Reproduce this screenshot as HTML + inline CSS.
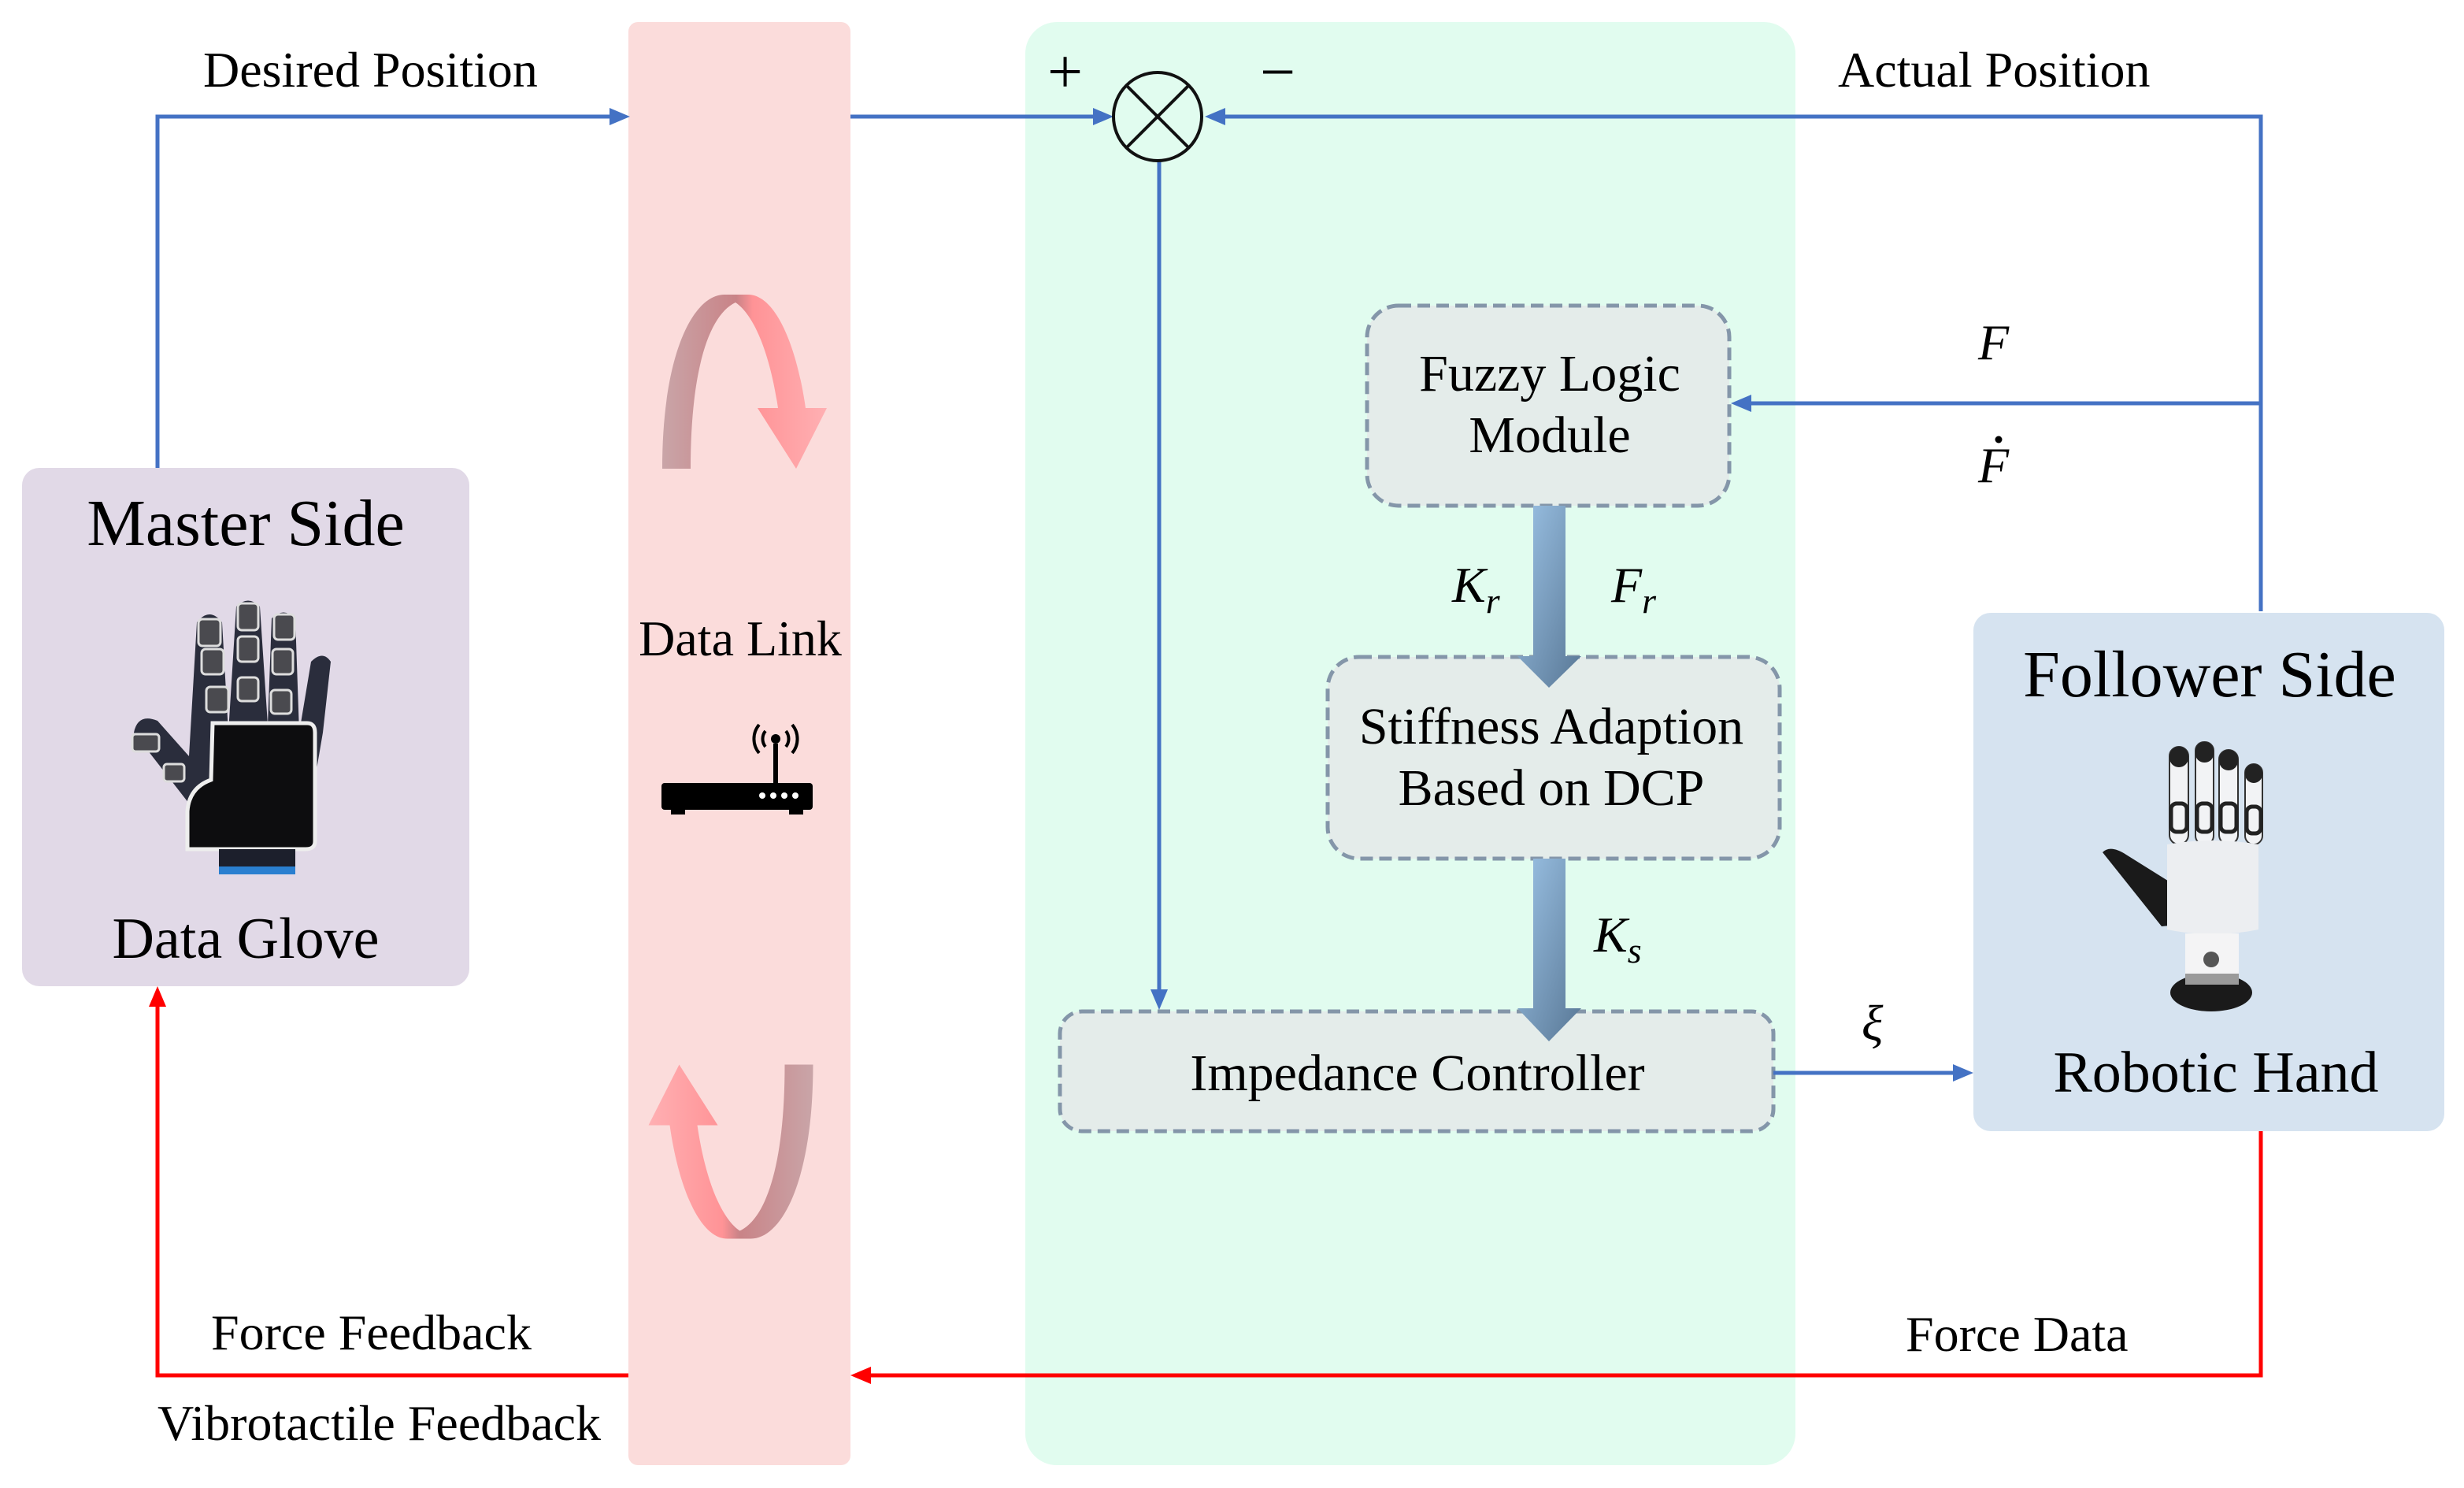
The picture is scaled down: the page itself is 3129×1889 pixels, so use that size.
<!DOCTYPE html>
<html><head><meta charset="utf-8"><style>html,body{margin:0;padding:0;background:#fff}svg{display:block}</style></head>
<body>
<svg width="3129" height="1889" viewBox="0 0 3129 1889" xmlns="http://www.w3.org/2000/svg" font-family="Liberation Serif, serif">
<defs>
<linearGradient id="bg" x1="0" y1="0" x2="1" y2="1"><stop offset="0" stop-color="#9cc3e6"/><stop offset="1" stop-color="#587795"/></linearGradient>
<linearGradient id="pg" x1="0" y1="0" x2="1" y2="0"><stop offset="0" stop-color="#c9a5a8"/><stop offset="0.45" stop-color="#c98387"/><stop offset="0.55" stop-color="#ff9396"/><stop offset="1" stop-color="#ffb0b3"/></linearGradient>
</defs>
<rect x="798" y="28" width="282" height="1832" rx="12" fill="#fbdcdb"/>
<rect x="1302" y="28" width="978" height="1832" rx="40" fill="#e1fcef"/>
<rect x="28" y="594" width="568" height="658" rx="22" fill="#e1d9e7"/>
<rect x="2506" y="778" width="598" height="658" rx="22" fill="#d6e3f0"/>

<g fill="#e4ecea" stroke="#8496a9" stroke-width="5" stroke-dasharray="16 8">
<rect x="1736" y="388" width="460" height="254" rx="40"/>
<rect x="1686" y="834" width="574" height="256" rx="40"/>
<rect x="1346" y="1284" width="906" height="152" rx="28"/>
</g>

<path d="M1947,642 H1988 V833 H2008 L1967,873 L1927,833 H1947 Z" fill="url(#bg)"/>
<path d="M1947,1090 H1988 V1280 H2008 L1967,1322 L1927,1280 H1947 Z" fill="url(#bg)"/>

<g stroke="#4472c4" stroke-width="5" fill="none">
<polyline points="200,594 200,148 776,148"/>
<line x1="1080" y1="148" x2="1392" y2="148"/>
<polyline points="2871,776 2871,148 1552,148"/>
<line x1="1472" y1="204" x2="1472" y2="1256"/>
<line x1="2871" y1="512" x2="2224" y2="512"/>
<line x1="2252" y1="1362" x2="2480" y2="1362"/>
</g>
<g fill="#4472c4">
<polygon points="800,148 774,137 774,159"/>
<polygon points="1414,148 1388,137 1388,159"/>
<polygon points="1530,148 1556,137 1556,159"/>
<polygon points="1472,1282 1461,1256 1483,1256"/>
<polygon points="2198,512 2224,501 2224,523"/>
<polygon points="2506,1362 2480,1351 2480,1373"/>
</g>
<g stroke="#ff0000" stroke-width="5" fill="none">
<polyline points="2871,1436 2871,1746 1106,1746"/>
<polyline points="798,1746 200,1746 200,1278"/>
</g>
<g fill="#ff0000">
<polygon points="1080,1746 1106,1735 1106,1757"/>
<polygon points="200,1252 189,1278 211,1278"/>
</g>

<circle cx="1470" cy="148" r="56" fill="none" stroke="#111" stroke-width="4"/>
<line x1="1430" y1="108" x2="1510" y2="188" stroke="#111" stroke-width="4"/>
<line x1="1510" y1="108" x2="1430" y2="188" stroke="#111" stroke-width="4"/>

<path d="M841,595 C841,450 880,374 920,374 L950,374 C985,374 1012,440 1023,518 L1050,518 L1011,595 L962,518 L988,518 C978,450 958,400 934,384 C900,400 877,470 877,595 Z" fill="url(#pg)"/>
<g transform="translate(928,1462) rotate(180) translate(-945.5,-484.5)">
<path d="M841,595 C841,450 880,374 920,374 L950,374 C985,374 1012,440 1023,518 L1050,518 L1011,595 L962,518 L988,518 C978,450 958,400 934,384 C900,400 877,470 877,595 Z" fill="url(#pg)"/>
</g>

<g>
<rect x="840" y="994" width="192" height="34" rx="4" fill="#000"/>
<rect x="852" y="1026" width="18" height="8" fill="#000"/>
<rect x="1002" y="1026" width="18" height="8" fill="#000"/>
<rect x="982" y="944" width="6" height="52" fill="#000"/>
<circle cx="985" cy="938" r="6" fill="#000"/>
<g fill="none" stroke="#000" stroke-width="4">
<path d="M972,928 A16,16 0 0,0 972,948"/><path d="M998,928 A16,16 0 0,1 998,948"/>
<path d="M964,920 A28,28 0 0,0 964,956"/><path d="M1006,920 A28,28 0 0,1 1006,956"/>
</g>
<g fill="#fff"><circle cx="968" cy="1010" r="4"/><circle cx="982" cy="1010" r="4"/><circle cx="996" cy="1010" r="4"/><circle cx="1010" cy="1010" r="4"/></g>
</g>

<g>
<path d="M250,790 Q266,770 282,790 L290,930 L300,770 Q315,755 330,770 L340,920 L345,785 Q360,770 375,785 L380,930 L395,840 Q410,825 420,840 L410,930 L398,1000 L240,1020 L170,930 Q175,905 200,915 L240,960 Z" fill="#2a2d3c"/>
<g fill="#4a4a4f" stroke="#ddd" stroke-width="3">
<rect x="252" y="786" width="28" height="34" rx="5"/><rect x="256" y="824" width="28" height="32" rx="5"/><rect x="262" y="872" width="28" height="32" rx="5"/>
<rect x="302" y="766" width="26" height="34" rx="5"/><rect x="302" y="808" width="26" height="32" rx="5"/><rect x="302" y="860" width="26" height="30" rx="5"/>
<rect x="348" y="780" width="26" height="32" rx="5"/><rect x="346" y="824" width="26" height="32" rx="5"/><rect x="344" y="876" width="26" height="30" rx="5"/>
<rect x="168" y="932" width="34" height="22" rx="4"/><rect x="208" y="970" width="26" height="22" rx="4"/>
</g>
<path d="M270,918 H390 Q400,918 400,930 V1068 Q400,1078 388,1078 H238 V1030 Q240,1000 268,990 Z" fill="#0d0d0f" stroke="#eee" stroke-width="5"/>
<rect x="278" y="1078" width="97" height="32" fill="#1c1f2c"/>
<rect x="278" y="1100" width="97" height="10" fill="#2a7fd0"/>
</g>

<g>
<path d="M2670,1082 Q2680,1072 2700,1085 L2756,1120 L2756,1175 L2745,1176 Z" fill="#1a1a1a"/>
<g fill="#f2f3f5" stroke="#333" stroke-width="2">
<rect x="2755" y="948" width="24" height="124" rx="12"/>
<rect x="2788" y="942" width="23" height="130" rx="11"/>
<rect x="2818" y="952" width="24" height="120" rx="12"/>
<rect x="2851" y="970" width="22" height="102" rx="11"/>
</g>
<g fill="#222"><rect x="2755" y="948" width="24" height="26" rx="12"/><rect x="2788" y="942" width="23" height="26" rx="11"/><rect x="2818" y="952" width="24" height="26" rx="12"/><rect x="2851" y="970" width="22" height="24" rx="11"/></g>
<g fill="none" stroke="#222" stroke-width="5"><rect x="2757" y="1020" width="20" height="36" rx="7"/><rect x="2790" y="1020" width="19" height="36" rx="7"/><rect x="2820" y="1020" width="20" height="36" rx="7"/><rect x="2853" y="1024" width="18" height="34" rx="7"/></g>
<path d="M2752,1072 Q2810,1062 2868,1072 L2868,1180 Q2810,1192 2752,1180 Z" fill="#eceef1"/>
<rect x="2775" y="1185" width="68" height="62" fill="#f4f4f5"/>
<ellipse cx="2808" cy="1260" rx="52" ry="24" fill="#1a1a1a"/>
<rect x="2775" y="1236" width="68" height="14" fill="#9a9a9a"/>
<circle cx="2808" cy="1218" r="10" fill="#555"/>
</g>

<g font-size="64" fill="#000">
<text x="258" y="110">Desired Position</text>
<text x="2334" y="110">Actual Position</text>
<text x="940" y="832" text-anchor="middle">Data Link</text>
<text x="1968" y="496" text-anchor="middle" font-size="66">Fuzzy Logic</text>
<text x="1968" y="574" text-anchor="middle" font-size="66">Module</text>
<text x="1970" y="944" text-anchor="middle" font-size="66">Stiffness Adaption</text>
<text x="1970" y="1022" text-anchor="middle" font-size="66">Based on DCP</text>
<text x="1800" y="1384" text-anchor="middle" font-size="66">Impedance Controller</text>
<text x="268" y="1713">Force Feedback</text>
<text x="200" y="1828">Vibrotactile Feedback</text>
<text x="2420" y="1715">Force Data</text>
<text x="312" y="692" text-anchor="middle" font-size="84">Master Side</text>
<text x="312" y="1216" text-anchor="middle" font-size="74">Data Glove</text>
<text x="2806" y="884" text-anchor="middle" font-size="84">Follower Side</text>
<text x="2814" y="1386" text-anchor="middle" font-size="74">Robotic Hand</text>
<text x="1330" y="118" font-size="80">+</text>
<text x="1600" y="118" font-size="80">−</text>
<g font-style="italic">
<text x="2512" y="456">F</text>
<text x="2512" y="612">F</text>
<text x="1844" y="764">K<tspan font-size="46" dy="14">r</tspan></text>
<text x="2046" y="764">F<tspan font-size="46" dy="14">r</tspan></text>
<text x="2024" y="1208">K<tspan font-size="46" dy="14">s</tspan></text>
<text x="2364" y="1320">ξ</text>
</g>
<circle cx="2538" cy="558" r="4.5" fill="#000"/>
</g>
</svg>
</body></html>
